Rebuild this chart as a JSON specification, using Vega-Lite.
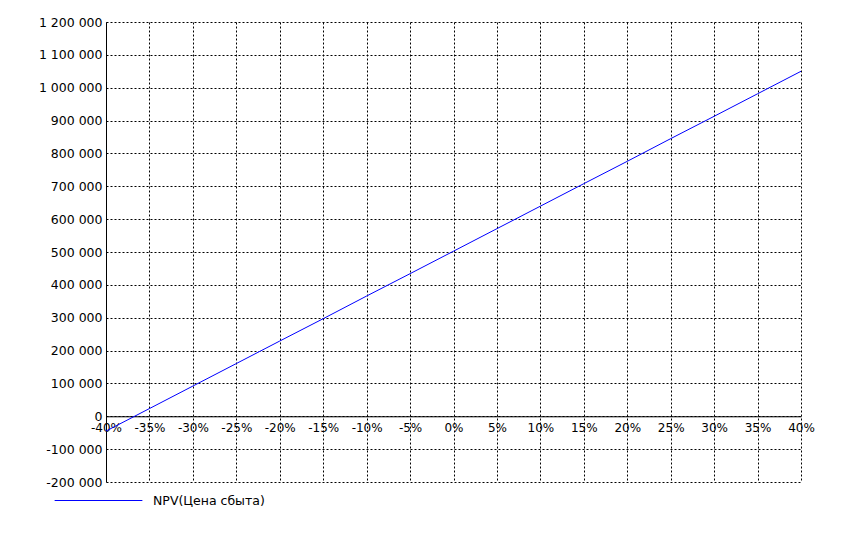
{
  "$schema": "https://vega.github.io/schema/vega-lite/v6.json",
  "width": 695,
  "height": 460,
  "autosize": {"type": "none"},
  "padding": {"left": 106, "top": 22, "right": 40, "bottom": 53},
  "background": "white",
  "config": {
    "view": {"stroke": null},
    "font": "DejaVu Sans",
    "axis": {
      "labelFont": "DejaVu Sans",
      "labelFontSize": 12,
      "labelColor": "black",
      "domainColor": "black",
      "domainWidth": 1,
      "gridColor": "black",
      "gridDash": [2, 2],
      "gridOpacity": 1,
      "gridWidth": 1,
      "ticks": false,
      "title": null
    },
    "legend": {"labelFont": "DejaVu Sans", "labelFontSize": 12.5, "labelColor": "black"}
  },
  "data": {
    "values": [
      {"pct": -40, "npv": -45000, "series": "NPV(Цена сбыта)"},
      {"pct": -35, "npv": 23500, "series": "NPV(Цена сбыта)"},
      {"pct": -30, "npv": 92000, "series": "NPV(Цена сбыта)"},
      {"pct": -25, "npv": 160500, "series": "NPV(Цена сбыта)"},
      {"pct": -20, "npv": 229000, "series": "NPV(Цена сбыта)"},
      {"pct": -15, "npv": 297000, "series": "NPV(Цена сбыта)"},
      {"pct": -10, "npv": 366000, "series": "NPV(Цена сбыта)"},
      {"pct": -5, "npv": 434000, "series": "NPV(Цена сбыта)"},
      {"pct": 0, "npv": 502500, "series": "NPV(Цена сбыта)"},
      {"pct": 5, "npv": 571000, "series": "NPV(Цена сбыта)"},
      {"pct": 10, "npv": 639500, "series": "NPV(Цена сбыта)"},
      {"pct": 15, "npv": 708000, "series": "NPV(Цена сбыта)"},
      {"pct": 20, "npv": 776000, "series": "NPV(Цена сбыта)"},
      {"pct": 25, "npv": 845000, "series": "NPV(Цена сбыта)"},
      {"pct": 30, "npv": 913000, "series": "NPV(Цена сбыта)"},
      {"pct": 35, "npv": 981500, "series": "NPV(Цена сбыта)"},
      {"pct": 40, "npv": 1050000, "series": "NPV(Цена сбыта)"}
    ]
  },
  "mark": {"type": "line", "strokeWidth": 1, "clip": true},
  "encoding": {
    "x": {
      "field": "pct",
      "type": "quantitative",
      "scale": {"domain": [-40, 40], "nice": false, "zero": false},
      "axis": {
        "values": [-40, -35, -30, -25, -20, -15, -10, -5, 0, 5, 10, 15, 20, 25, 30, 35, 40],
        "labelExpr": "datum.value + '%'",
        "offset": -65.714,
        "labelPadding": 6,
        "labelFlush": false,
        "labelOverlap": false,
        "grid": true
      }
    },
    "y": {
      "field": "npv",
      "type": "quantitative",
      "scale": {"domain": [-200000, 1200000], "nice": false, "zero": false},
      "axis": {
        "values": [-200000, -100000, 0, 100000, 200000, 300000, 400000, 500000, 600000, 700000, 800000, 900000, 1000000, 1100000, 1200000],
        "labelExpr": "(datum.value < 0 ? '-' : '') + replace(format(abs(datum.value), ','), /,/g, ' ')",
        "labelPadding": 4,
        "labelFontSize": 12.5,
        "labelOverlap": false,
        "labelFlush": false,
        "grid": true
      }
    },
    "color": {
      "field": "series",
      "type": "nominal",
      "scale": {"range": ["#0000ff"]},
      "legend": {
        "title": null,
        "orient": "none",
        "legendX": -52,
        "legendY": 434,
        "symbolType": "stroke",
        "symbolSize": 7700,
        "symbolStrokeWidth": 1,
        "labelOffset": 10,
        "padding": 0
      }
    }
  }
}
